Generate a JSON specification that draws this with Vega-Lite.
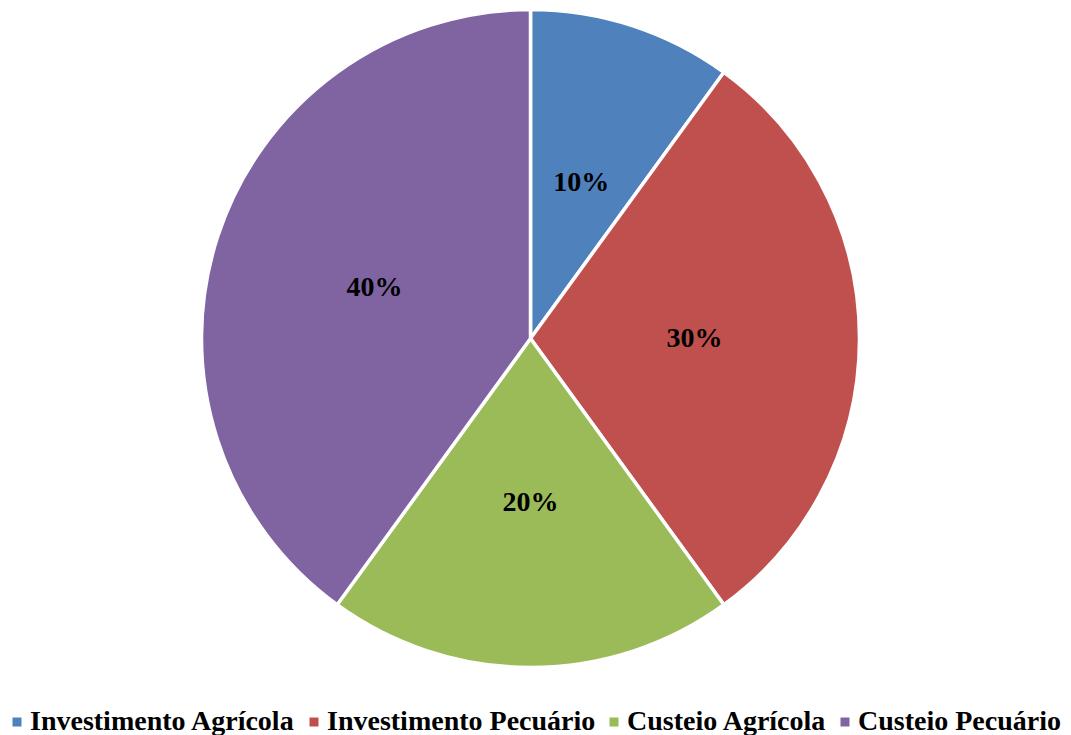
{
  "$schema": "https://vega.github.io/schema/vega-lite/v6.json",
  "autosize": "none",
  "width": 1061,
  "height": 677,
  "padding": {"left": 0, "top": 0, "right": 10, "bottom": 58},
  "background": "white",
  "data": {
    "values": [
      {"categoria": "Investimento Agrícola", "valor": 0.1, "ordem": 1},
      {"categoria": "Investimento Pecuário", "valor": 0.3, "ordem": 2},
      {"categoria": "Custeio Agrícola", "valor": 0.2, "ordem": 3},
      {"categoria": "Custeio Pecuário", "valor": 0.4, "ordem": 4}
    ]
  },
  "encoding": {
    "theta": {"field": "valor", "type": "quantitative", "stack": true},
    "order": {"field": "ordem", "type": "quantitative"},
    "color": {
      "field": "categoria",
      "type": "nominal",
      "sort": ["Investimento Agrícola", "Investimento Pecuário", "Custeio Agrícola", "Custeio Pecuário"],
      "scale": {
        "domain": ["Investimento Agrícola", "Investimento Pecuário", "Custeio Agrícola", "Custeio Pecuário"],
        "range": ["#4F81BD", "#C0504D", "#9BBB59", "#8064A2"]
      },
      "legend": {
        "title": null,
        "orient": "none",
        "direction": "horizontal",
        "legendX": 3,
        "legendY": 708,
        "symbolType": "square",
        "symbolSize": 81,
        "symbolStrokeWidth": 0,
        "labelFont": "Liberation Serif",
        "labelFontWeight": "bold",
        "labelFontSize": 28,
        "labelColor": "black",
        "labelOffset": -1,
        "columnPadding": 4,
        "padding": 0,
        "labelLimit": 0
      }
    }
  },
  "layer": [
    {
      "mark": {"type": "arc", "outerRadius": 329, "stroke": "white", "strokeWidth": 3.5}
    },
    {
      "mark": {"type": "text", "radius": 164, "font": "Liberation Serif", "fontWeight": "bold", "fontSize": 28, "color": "black"},
      "encoding": {
        "text": {"field": "valor", "type": "quantitative", "format": ".0%"},
        "color": {"value": "black"}
      }
    }
  ],
  "config": {"view": {"stroke": null}}
}
